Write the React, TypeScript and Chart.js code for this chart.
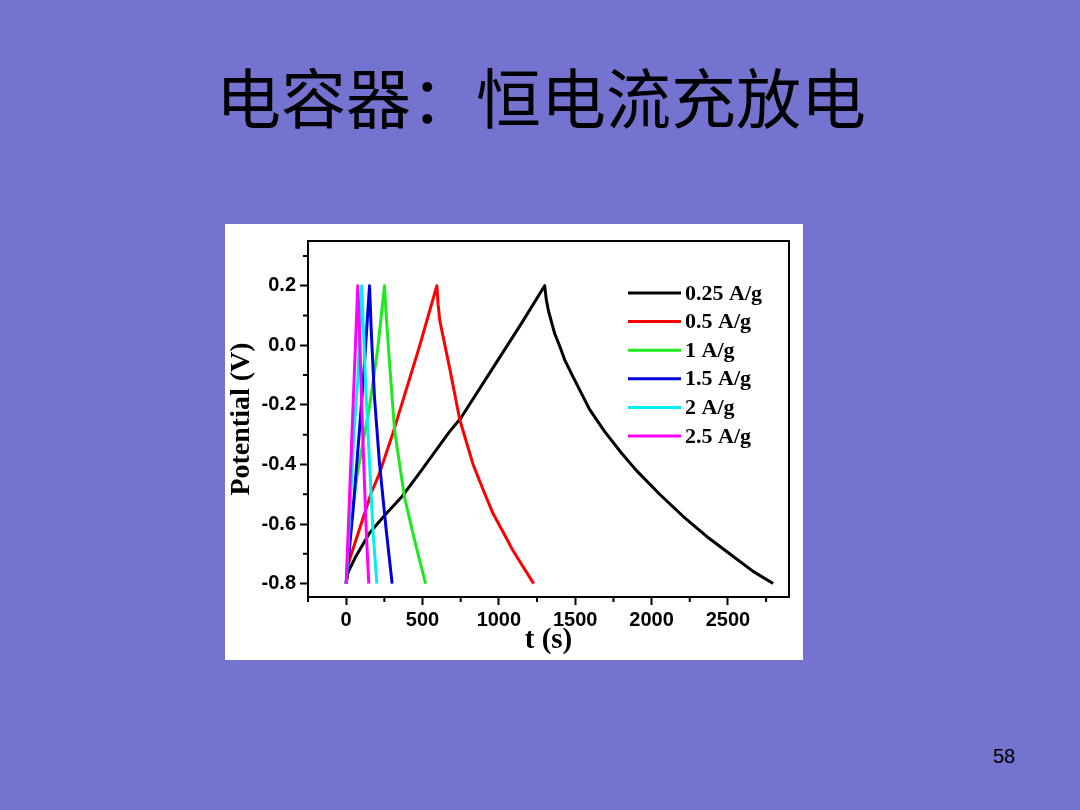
import { useEffect, useRef } from "react";
import { Chart, registerables } from "chart.js";

Chart.register(...registerables);

// legend labels (current densities) and line colours
const seriesLabels = ["0.25 A/g", "0.5 A/g", "1 A/g", "1.5 A/g", "2 A/g", "2.5 A/g"];
const seriesColors = ["#000000", "#ff0000", "#1ee81e", "#0000dd", "#00f0f0", "#ff00ff"];

// time (s) and potential (V), one pair per current
const t025 = [0, 10, 22, 65, 153, 250, 370, 500, 677, 750, 1000, 1150, 1300, 1310, 1325, 1365, 1400, 1431, 1485, 1594, 1693, 1800, 1900, 2053, 2206, 2359, 2533, 2665, 2796];
const v025 = [-0.8, -0.767, -0.752, -0.707, -0.63, -0.572, -0.505, -0.415, -0.29, -0.245, -0.045, 0.075, 0.2, 0.155, 0.115, 0.04, -0.005, -0.049, -0.105, -0.215, -0.29, -0.36, -0.42, -0.5, -0.574, -0.641, -0.708, -0.759, -0.8];

const t05 = [0, 11, 22, 164, 218, 306, 480, 594, 602, 613, 679, 744, 831, 901, 962, 1047, 1093, 1228];
const v05 = [-0.8, -0.742, -0.72, -0.496, -0.43, -0.295, -0.004, 0.2, 0.138, 0.083, -0.08, -0.25, -0.4, -0.49, -0.565, -0.645, -0.69, -0.8];

const t1 = [0, 22, 70, 152, 207, 251, 262, 284, 317, 382, 448, 520];
const v1 = [-0.8, -0.65, -0.44, -0.21, -0.01, 0.2, 0.1, -0.06, -0.285, -0.51, -0.655, -0.8];

const t15 = [0, 44, 87, 120, 153, 164, 185, 218, 262, 301];
const v15 = [-0.8, -0.56, -0.285, -0.06, 0.2, 0.051, -0.172, -0.395, -0.619, -0.8];

const t2 = [0, 52, 76, 102, 113, 131, 153, 175, 201];
const v2 = [-0.8, -0.284, -0.116, 0.2, 0.051, -0.172, -0.395, -0.619, -0.8];

const t25 = [0, 39, 76, 87, 100, 115, 131, 148];
const v25 = [-0.8, -0.284, 0.2, 0.051, -0.172, -0.395, -0.619, -0.8];

const seriesT = [t025, t05, t1, t15, t2, t25];
const seriesV = [v025, v05, v1, v15, v2, v25];

// axis ticks
const xTicks = [0, 500, 1000, 1500, 2000, 2500];
const xMinorTicks = [-250, 250, 750, 1250, 1750, 2250, 2750];
const yTicks = [-0.8, -0.6, -0.4, -0.2, 0, 0.2];
const yMinorTicks = [-0.7, -0.5, -0.3, -0.1, 0.1, 0.3];

const serifBold = { family: "'Liberation Serif', 'Times New Roman', serif", weight: "bold" as const };
const sansBold = { family: "'Liberation Sans', Arial, sans-serif", weight: "bold" as const };

// frame around the plot, minor ticks and the in-plot legend
const framePlugin = {
  id: "frame",
  afterDraw(chart: any) {
    const { ctx, chartArea: a, scales } = chart;
    ctx.save();
    ctx.strokeStyle = "#000";
    ctx.lineWidth = 2;
    ctx.strokeRect(a.left, a.top, a.right - a.left, a.bottom - a.top);

    ctx.beginPath();
    xMinorTicks.forEach((v) => {
      const x = scales.x.getPixelForValue(v);
      ctx.moveTo(x, a.bottom);
      ctx.lineTo(x, a.bottom + 5);
    });
    yMinorTicks.forEach((v) => {
      const y = scales.y.getPixelForValue(v);
      ctx.moveTo(a.left, y);
      ctx.lineTo(a.left - 5, y);
    });
    ctx.stroke();

    // legend
    ctx.font = "bold 22px 'Liberation Serif', serif";
    ctx.textBaseline = "middle";
    ctx.textAlign = "left";
    ctx.fillStyle = "#000";
    chart.data.datasets.forEach((ds: any, i: number) => {
      const y = a.top + 52 + i * 28.6;
      ctx.strokeStyle = ds.borderColor;
      ctx.lineWidth = 3;
      ctx.beginPath();
      ctx.moveTo(a.left + 320, y);
      ctx.lineTo(a.left + 373, y);
      ctx.stroke();
      ctx.fillText(ds.label, a.left + 377, y + 1);
    });
    ctx.restore();
  },
};

function GcdChart() {
  const canvasRef = useRef<HTMLCanvasElement | null>(null);

  useEffect(() => {
    if (!canvasRef.current) return;

    const datasets = seriesLabels.map((label, i) => ({
      label,
      data: seriesT[i].map((t, j) => ({ x: t, y: seriesV[i][j] })),
      borderColor: seriesColors[i],
      backgroundColor: seriesColors[i],
      borderWidth: 3,
      borderJoinStyle: "round" as const,
      pointRadius: 0,
      showLine: true,
      fill: false,
      tension: 0,
      order: seriesLabels.length - i,
    }));

    const chart = new Chart(canvasRef.current, {
      type: "scatter",
      data: { datasets },
      options: {
        responsive: false,
        animation: false,
        layout: { padding: { top: 17, right: 14, left: 0, bottom: 0 } },
        plugins: {
          legend: { display: false },
          tooltip: { enabled: false },
        },
        scales: {
          x: {
            type: "linear",
            min: -250,
            max: 2900,
            afterBuildTicks: (scale: any) => {
              scale.ticks = xTicks.map((v) => ({ value: v }));
            },
            afterFit: (scale: any) => {
              scale.height = 63;
            },
            grid: {
              drawOnChartArea: false,
              drawTicks: true,
              tickLength: 8,
              tickColor: "#000",
              tickWidth: 2,
            },
            border: { display: true, color: "#000", width: 2 },
            ticks: {
              color: "#000",
              font: { ...sansBold, size: 20 },
              padding: 3,
              maxRotation: 0,
              callback: (v: any) => String(v),
            },
            title: {
              display: true,
              text: "t (s)",
              color: "#000",
              font: { ...serifBold, size: 29 },
              padding: { top: 0, bottom: 2 },
            },
          },
          y: {
            type: "linear",
            min: -0.845,
            max: 0.35,
            afterBuildTicks: (scale: any) => {
              scale.ticks = yTicks.map((v) => ({ value: v }));
            },
            afterFit: (scale: any) => {
              scale.width = 83;
            },
            grid: {
              drawOnChartArea: false,
              drawTicks: true,
              tickLength: 8,
              tickColor: "#000",
              tickWidth: 2,
            },
            border: { display: true, color: "#000", width: 2 },
            ticks: {
              color: "#000",
              font: { ...sansBold, size: 20 },
              padding: 4,
              callback: (v: any) => Number(v).toFixed(1),
            },
            title: {
              display: true,
              text: "Potential (V)",
              color: "#000",
              font: { ...serifBold, size: 28 },
              padding: { top: 0, bottom: 0 },
            },
          },
        },
      },
      plugins: [framePlugin],
    });

    return () => {
      chart.destroy();
    };
  }, []);

  return <canvas ref={canvasRef} width={578} height={436} style={{ display: "block" }} />;
}

export default function App() {
  return (
    <div
      style={{
        position: "fixed",
        left: 0,
        top: 0,
        width: 1080,
        height: 810,
        background: "#7474d0",
        overflow: "hidden",
      }}
    >
      <div
        style={{
          position: "absolute",
          left: 0,
          top: 57,
          width: 1082,
          textAlign: "center",
          fontFamily: "'Noto Sans CJK SC', sans-serif",
          fontSize: 65,
          lineHeight: "76px",
          color: "#000",
        }}
      >
        电容器：恒电流充放电
      </div>
      <div
        style={{
          position: "absolute",
          left: 225,
          top: 224,
          width: 578,
          height: 436,
          background: "#fff",
        }}
      >
        <GcdChart />
      </div>
      <div
        style={{
          position: "absolute",
          left: 993,
          top: 746,
          fontFamily: "'Liberation Sans', Arial, sans-serif",
          fontSize: 20,
          lineHeight: "20px",
          color: "#000",
        }}
      >
        58
      </div>
    </div>
  );
}
